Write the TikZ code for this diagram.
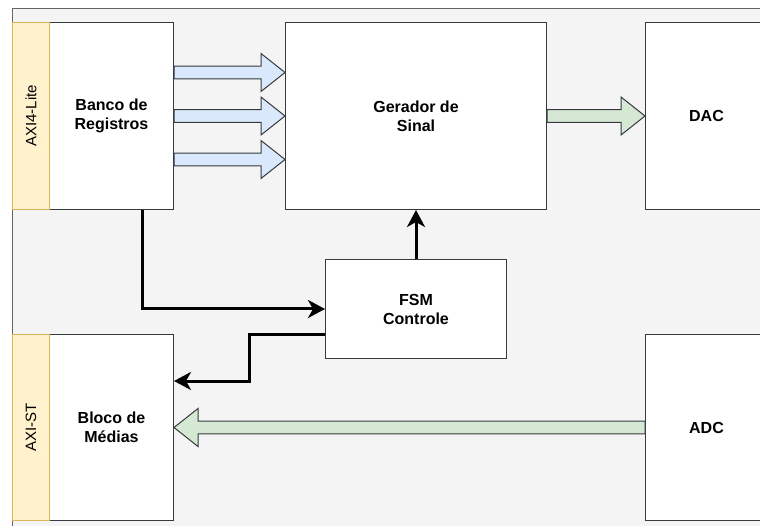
\documentclass[tikz,border=0pt]{standalone}
\usepackage{fontspec}
\setmainfont{Liberation Sans}
\usetikzlibrary{arrows.meta,calc}

\definecolor{panel}{HTML}{F4F4F4}
\definecolor{panelline}{HTML}{666666}
\definecolor{boxline}{HTML}{36393D}
\definecolor{ifacefill}{HTML}{FFF2CC}
\definecolor{ifaceline}{HTML}{D6B656}
\definecolor{busblue}{HTML}{DAE8FC}
\definecolor{busgreen}{HTML}{D5E8D4}

\tikzset{
  block/.style={draw=boxline, fill=white, line width=1pt, align=center,
    inner sep=0pt, font=\bfseries\fontsize{16}{19}\selectfont},
  iface/.style={draw=ifaceline, fill=ifacefill, line width=1pt, inner sep=0pt},
  ifacelabel/.style={rotate=90, inner sep=0pt, font=\fontsize{15}{18}\selectfont},
  ctrl/.style={line width=3pt, -{Stealth[length=17pt,width=18pt,inset=5pt]}},
  busedge/.style={draw=boxline, line width=1pt, line join=miter},
}

% wide hollow bus arrow between two points on the same horizontal line
% #1 start, #2 tip, #3 fill colour
\newcommand\busarrow[3]{%
  \draw[busedge, fill=#3] let \p1=(#1), \p2=(#2), \n1={sign(\x2-\x1)} in
    (\x1,\y1+6.3pt) -- (\x2-\n1*24pt,\y1+6.3pt) -- (\x2-\n1*24pt,\y1+19pt)
    -- (\x2,\y1) -- (\x2-\n1*24pt,\y1-19pt) -- (\x2-\n1*24pt,\y1-6.3pt)
    -- (\x1,\y1-6.3pt) -- cycle;
}

\begin{document}
\begin{tikzpicture}[x=1pt, y=-1pt]
  \clip (0,0) rectangle (760,526);
  \fill[white] (0,0) rectangle (760,526);

  % container panel
  \fill[panel] (12,9) rectangle (800,560);
  \draw[panelline, line width=1pt] (12,560) -- (12,9) -- (800,9);

  % blocks
  \node[block, minimum width=124pt, minimum height=187pt, anchor=north west]
    (banco) at (49,22) {Banco de\\Registros};
  \node[iface, minimum width=37pt, minimum height=187pt, anchor=north west]
    (axilite) at (12,22) {};
  \node[ifacelabel] (axilitetxt) at (axilite) {AXI4-Lite};

  \node[block, minimum width=261pt, minimum height=187pt, anchor=north west]
    (gerador) at (285,22) {Gerador de\\Sinal};

  \node[block, minimum width=122pt, minimum height=187pt, anchor=north west]
    (dac) at (645,22) {DAC};

  \node[block, minimum width=181pt, minimum height=99pt, anchor=north west]
    (fsm) at (325,259) {FSM\\Controle};

  \node[block, minimum width=124pt, minimum height=186pt, anchor=north west]
    (bloco) at (49,334) {Bloco de\\Médias};
  \node[iface, minimum width=37pt, minimum height=186pt, anchor=north west]
    (axist) at (12,334) {};
  \node[ifacelabel] (axisttxt) at (axist) {AXI-ST};

  \node[block, minimum width=122pt, minimum height=186pt, anchor=north west]
    (adc) at (645,334) {ADC};

  % register buses
  \busarrow{$(banco.east)+(0,-43.5)$}{$(gerador.west)+(0,-43.5)$}{busblue}
  \busarrow{banco.east}{gerador.west}{busblue}
  \busarrow{$(banco.east)+(0,43.5)$}{$(gerador.west)+(0,43.5)$}{busblue}

  % data buses
  \busarrow{gerador.east}{dac.west}{busgreen}
  \busarrow{adc.west}{bloco.east}{busgreen}

  % control connections
  \draw[ctrl] ([xshift=31pt]banco.south) |- (fsm.west);
  \draw[ctrl] (fsm.north) -- (fsm.north |- gerador.south);
  \draw[ctrl] ([yshift=-25.5pt]fsm.west) -- ++(-76,0)
    |- ([yshift=46.5pt]bloco.east);
\end{tikzpicture}
\end{document}
